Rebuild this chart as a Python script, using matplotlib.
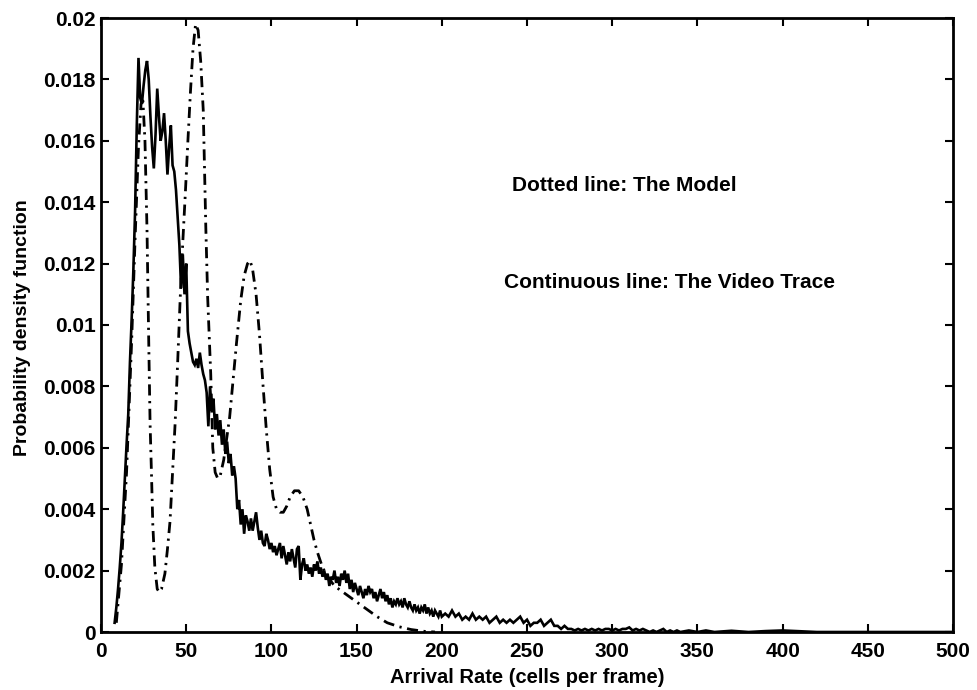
import matplotlib
matplotlib.use("Agg")
import matplotlib.pyplot as plt
import numpy as np

plt.rcParams['font.family'] = ['Liberation Sans', 'DejaVu Sans']

# ---- Video trace (continuous line) ----
trace_x_a = list(range(8, 201))
trace_y_a = [
    0.0003, 0.0008, 0.0014, 0.0021, 0.0029, 0.0039, 0.0050, 0.0061, 0.0071, 0.0088,   # 8-17
    0.0102, 0.0118, 0.0137, 0.0165, 0.0187, 0.0174, 0.0172, 0.0178, 0.0183, 0.0186,   # 18-27
    0.0180, 0.0168, 0.0158, 0.0151, 0.0162, 0.0177, 0.0168, 0.0160, 0.0163, 0.0169,   # 28-37
    0.0160, 0.0149, 0.0158, 0.0165, 0.0152, 0.0150, 0.0144, 0.0135, 0.0126, 0.0112,   # 38-47
    0.0123, 0.0110, 0.0120, 0.0098, 0.0094, 0.0091, 0.0088, 0.0087, 0.0089, 0.0086,   # 48-57
    0.0091, 0.0087, 0.0084, 0.0082, 0.0078, 0.0067, 0.0080, 0.0072, 0.0076, 0.0066,   # 58-67
    0.0071, 0.0064, 0.0069, 0.0061, 0.0066, 0.0058, 0.0062, 0.0055, 0.0058, 0.0051,   # 68-77
    0.0054, 0.0050, 0.0040, 0.0043, 0.0035, 0.0040, 0.0032, 0.0038, 0.0036, 0.0033,   # 78-87
    0.0037, 0.0033, 0.0036, 0.0039, 0.0034, 0.0030, 0.0033, 0.0029, 0.0028, 0.0032,   # 88-97
    0.0030, 0.0027, 0.0029, 0.0026, 0.0028, 0.0025, 0.0027, 0.0029, 0.0024, 0.0028,   # 98-107
    0.0025, 0.0022, 0.0026, 0.0023, 0.0027, 0.0024, 0.0021, 0.0027, 0.0028, 0.0017,   # 108-117
    0.0022, 0.0024, 0.0020, 0.0022, 0.0019, 0.0021, 0.0018, 0.0022, 0.0020, 0.0023,   # 118-127
    0.0019, 0.0021, 0.0018, 0.0020, 0.0017, 0.0019, 0.0015, 0.0018, 0.0017, 0.0020,   # 128-137
    0.0016, 0.0018, 0.0015, 0.0019, 0.0017, 0.0020, 0.0016, 0.0019, 0.0014, 0.0017,   # 138-147
    0.0013, 0.0016, 0.0014, 0.0012, 0.0015, 0.0013, 0.0011, 0.0014, 0.0012, 0.0015,   # 148-157
    0.0013, 0.0014, 0.0011, 0.0013, 0.0010, 0.0012, 0.0014, 0.0011, 0.0013, 0.0010,   # 158-167
    0.0012, 0.0009, 0.0011, 0.0008, 0.0010, 0.0009, 0.0011, 0.0009, 0.0010, 0.0008,   # 168-177
    0.0011, 0.0009, 0.0008, 0.0010, 0.0008, 0.0007, 0.0009, 0.0007, 0.0008, 0.0006,   # 178-187
    0.0008, 0.0007, 0.0009, 0.0006, 0.0008, 0.0006, 0.0007, 0.0005, 0.0007, 0.0006,   # 188-197
    0.0005, 0.0007, 0.0005,                                                           # 198-200
]
trace_x_b = list(range(202, 342, 2))
trace_y_b = [
    0.0006, 0.0005, 0.0007, 0.0005, 0.0006, 0.0004, 0.0005, 0.0004, 0.0006, 0.0004,   # 202-220
    0.0005, 0.0004, 0.0005, 0.0003, 0.0004, 0.0005, 0.0003, 0.0004, 0.0003, 0.0004,   # 222-240
    0.0003, 0.0004, 0.0005, 0.0003, 0.0004, 0.0002, 0.0003, 0.0003, 0.0004, 0.0002,   # 242-260
    0.0003, 0.0004, 0.0002, 0.0002, 0.0001, 0.0002, 0.0001, 0.0001, 0.00005, 0.0001,  # 262-280
    0.00005, 0.0001, 0.00005, 0.0001, 0.00005, 0.0001, 0.00005, 0.0001, 0.0001, 0.00005,  # 282-300
    0.0001, 0.00005, 0.0001, 0.0001, 0.00015, 0.00005, 0.0001, 0.00005, 0.0001, 0.00005,  # 302-320
    0.0, 0.00005, 0.0, 0.00005, 0.0001, 0.0, 0.00005, 0.0, 0.00005, 0.0,               # 322-340
]
trace_x_c = [345, 350, 355, 360, 370, 380, 390, 400, 420, 450, 500]
trace_y_c = [0.00005, 0.0, 0.00005, 0.0, 0.00004, 0.0, 0.00003, 0.00005, 0.0, 0.0, 0.0]

# ---- Model (dash-dot line) ----
model_x = [9, 12, 15, 18, 20, 22, 23.5, 24.6, 25.8, 27, 28, 28.8, 29.6, 30.4, 31.6,
           33, 34.2, 35.5, 37.5, 39, 40.5, 42, 43.5, 45, 46.5, 48, 49.5, 51, 52.5,
           54, 55.5, 57, 58.5, 60, 61.5, 62.6, 64.4, 65.6, 67, 68.5, 70, 72, 75.5,
           77.5, 79.5, 82, 84, 86, 87.5, 89, 91, 93, 95, 97, 99, 101, 103, 105, 107,
           109, 111, 113.5, 116, 118.5, 121, 123, 125, 127, 130, 133, 137, 142, 147,
           152, 157, 162, 168, 175, 182, 190, 196]
model_y = [0.0003, 0.0022, 0.0052, 0.0095, 0.0128, 0.0158, 0.0172, 0.0173, 0.0160,
           0.0131, 0.0095, 0.0068, 0.0052, 0.0035, 0.0021, 0.0014, 0.0013, 0.0014,
           0.0019, 0.0027, 0.0036, 0.0052, 0.0068, 0.0088, 0.0109, 0.0127, 0.0143,
           0.0160, 0.0176, 0.0190, 0.0198, 0.0196, 0.0186, 0.0170, 0.0132, 0.0109,
           0.0084, 0.0060, 0.0052, 0.0050, 0.0051, 0.0056, 0.0070, 0.0082, 0.0094,
           0.0108, 0.0116, 0.0120, 0.0121, 0.0118, 0.0110, 0.0097, 0.0081, 0.0066,
           0.0053, 0.0044, 0.0040, 0.0039, 0.0039, 0.0041, 0.0044, 0.0046, 0.0046,
           0.0044, 0.0040, 0.0035, 0.0030, 0.0026, 0.0021, 0.0018, 0.0015, 0.0013,
           0.0011, 0.0009, 0.0007, 0.0005, 0.0003, 0.00017, 0.00008, 0.00002, 0.0]

x_ticks = [0, 50, 100, 150, 200, 250, 300, 350, 400, 450, 500]
y_ticks = [0, 0.002, 0.004, 0.006, 0.008, 0.01, 0.012, 0.014, 0.016, 0.018, 0.02]
y_tick_labels = ['0', '0.002', '0.004', '0.006', '0.008', '0.01', '0.012',
                 '0.014', '0.016', '0.018', '0.02']

fig = plt.figure(figsize=(9.77, 6.90), dpi=100)
ax = fig.add_axes([101/977, 1 - 632/690, (953 - 101)/977, (632 - 18)/690])

tx = trace_x_a + trace_x_b + trace_x_c
ty = trace_y_a + trace_y_b + trace_y_c
ax.plot(tx, ty, color='black', lw=1.9, solid_joinstyle='miter')
ax.plot(model_x, model_y, color='black', lw=2.0, linestyle=(0, (4, 2, 0.8, 2)))

ax.set_xlim(0, 500)
ax.set_ylim(0, 0.02)
ax.set_xticks(x_ticks)
ax.set_xticklabels([str(v) for v in x_ticks], fontsize=15, fontweight='bold')
ax.set_yticks(y_ticks)
ax.set_yticklabels(y_tick_labels, fontsize=15, fontweight='bold')
ax.tick_params(direction='in', length=6, width=1.5, top=True, right=True)
ax.tick_params(axis='x', pad=7)
ax.tick_params(axis='y', pad=4)
for s in ax.spines.values():
    s.set_linewidth(2.0)

ax.set_xlabel('Arrival Rate (cells per frame)', fontsize=14.5, fontweight='bold')
ax.xaxis.set_label_coords(0.5, -0.058)
ax.set_ylabel('Probability density function', fontsize=14, fontweight='bold')
ax.yaxis.set_label_coords(-0.082, 0.495)

ax.text(241, 0.01456, 'Dotted line: The Model', fontsize=15, fontweight='bold', va='center', ha='left')
ax.text(236.5, 0.0114, 'Continuous line: The Video Trace', fontsize=15, fontweight='bold', va='center', ha='left')

fig.savefig('out.png', dpi=100)
